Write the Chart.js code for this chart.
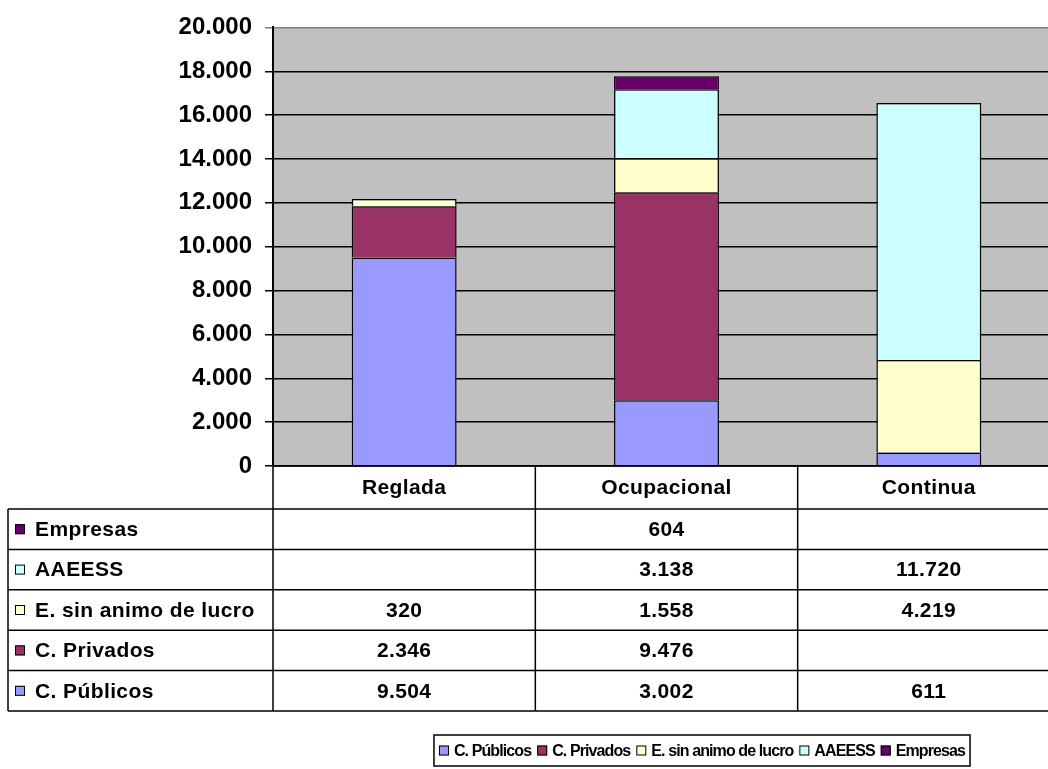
<!DOCTYPE html>
<html><head><meta charset="utf-8">
<script src="https://cdn.jsdelivr.net/npm/chart.js@4.4.0/dist/chart.umd.min.js"></script>
<style>
html,body{margin:0;padding:0;background:#fff;overflow:hidden;width:1048px;height:769px}
#wrap{width:1060px;height:769px;position:relative}
</style></head><body>
<div id="wrap"><canvas id="c" width="1060" height="769"></canvas></div>
<script>
// Categories and series
const categories = ['Reglada', 'Ocupacional', 'Continua'];
const seriesNames = ['C. Públicos', 'C. Privados', 'E. sin animo de lucro', 'AAEESS', 'Empresas'];
const publicos = [9504, 3002, 611];
const privados = [2346, 9476, null];
const sinAnimo = [320, 1558, 4219];
const aaeess = [null, 3138, 11720];
const empresas = [null, 604, null];
const seriesColors = ['#9999ff', '#993366', '#ffffcc', '#ccffff', '#660066'];
const yMax = 20000, yStep = 2000;

const seriesValues = [publicos, privados, sinAnimo, aaeess, empresas];
const FONT = '"Liberation Sans", Arial, sans-serif';

function fmt(v) {
  return String(v).replace(/\B(?=(\d{3})+(?!\d))/g, '.');
}

// grey plot background
const plotBg = {
  id: 'plotBg',
  beforeDraw(chart) {
    const { ctx, chartArea: a } = chart;
    ctx.save();
    ctx.fillStyle = '#c0c0c0';
    ctx.fillRect(a.left, a.top, a.right - a.left, a.bottom - a.top);
    ctx.restore();
  }
};

// data table under the plot plus the boxed legend
const dataTable = {
  id: 'dataTable',
  afterDraw(chart) {
    const { ctx, chartArea: a } = chart;
    const xs = chart.scales.x;
    const n = categories.length;
    const catW = (a.right - a.left) / n;
    const headTop = a.bottom, headH = 43, rowH = 40.4, tLeft = 8;
    const rowsTop = headTop + headH;
    const tBottom = rowsTop + rowH * seriesNames.length;

    ctx.save();
    ctx.strokeStyle = '#000';
    ctx.lineWidth = 1.5;
    ctx.beginPath();
    ctx.moveTo(a.left, headTop); ctx.lineTo(a.right, headTop);
    for (let i = 0; i <= seriesNames.length; i++) {
      const y = rowsTop + rowH * i;
      ctx.moveTo(tLeft, y); ctx.lineTo(a.right, y);
    }
    ctx.moveTo(tLeft, rowsTop); ctx.lineTo(tLeft, tBottom);
    for (let k = 0; k < n; k++) {
      const x = a.left + k * catW;
      ctx.moveTo(x, headTop); ctx.lineTo(x, tBottom);
    }
    ctx.stroke();

    ctx.fillStyle = '#000';
    ctx.font = 'bold 21px ' + FONT;
    ctx.letterSpacing = '0.4px';
    ctx.textBaseline = 'middle';
    ctx.textAlign = 'center';
    categories.forEach((c, i) => ctx.fillText(c, xs.getPixelForValue(i), headTop + headH / 2 + 1));

    const order = seriesNames.map((_, i) => i).reverse();
    order.forEach((si, r) => {
      const yMid = rowsTop + rowH * r + rowH / 2 + 1;
      ctx.fillStyle = seriesColors[si];
      ctx.fillRect(15, yMid - 6, 10, 10);
      ctx.lineWidth = 1;
      ctx.strokeStyle = '#000';
      ctx.strokeRect(15.5, yMid - 5.5, 9, 9);
      ctx.fillStyle = '#000';
      ctx.textAlign = 'left';
      ctx.fillText(seriesNames[si], 35, yMid);
      ctx.textAlign = 'center';
      seriesValues[si].forEach((v, ci) => {
        if (v !== null) ctx.fillText(fmt(v), xs.getPixelForValue(ci), yMid);
      });
    });

    // legend
    ctx.font = 'bold 16px ' + FONT;
    ctx.letterSpacing = '-0.9px';
    const mk = 10, gapMk = 5, gapItem = 6, pad = 5;
    const widths = seriesNames.map(s => ctx.measureText(s).width);
    const total = widths.reduce((s, w) => s + mk + gapMk + w, 0) + gapItem * (seriesNames.length - 1);
    const lx = 702 - total / 2 - pad, ly = 735, lh = 31;
    ctx.lineWidth = 1.5;
    ctx.strokeStyle = '#000';
    ctx.strokeRect(lx, ly, total + pad * 2, lh);
    let x = lx + pad;
    const yMid = ly + lh / 2 + 1;
    seriesNames.forEach((s, i) => {
      ctx.fillStyle = seriesColors[i];
      ctx.fillRect(x, yMid - 6, mk, mk);
      ctx.lineWidth = 1;
      ctx.strokeRect(x + 0.5, yMid - 5.5, mk - 1, mk - 1);
      x += mk + gapMk;
      ctx.fillStyle = '#000';
      ctx.textAlign = 'left';
      ctx.fillText(s, x, yMid);
      x += widths[i] + gapItem;
    });
    ctx.restore();
  }
};

new Chart(document.getElementById('c'), {
  type: 'bar',
  data: {
    labels: categories,
    datasets: seriesNames.map((name, i) => ({
      label: name,
      data: seriesValues[i],
      backgroundColor: seriesColors[i],
      borderColor: '#000',
      borderWidth: 1.5,
      barPercentage: 0.4,
      categoryPercentage: 1
    }))
  },
  options: {
    responsive: false,
    animation: false,
    layout: { padding: { top: 26, bottom: 303, left: 0, right: 0 } },
    plugins: { legend: { display: false }, tooltip: { enabled: false } },
    scales: {
      x: { stacked: true, display: false },
      y: {
        stacked: true,
        min: 0,
        max: yMax,
        ticks: {
          stepSize: yStep,
          callback: v => fmt(v),
          color: '#000',
          padding: 13,
          font: { family: FONT, weight: 'bold', size: 24 }
        },
        grid: {
          color: c => (c.tick && c.tick.value === yMax ? '#808080' : '#000'),
          lineWidth: 1.5,
          tickLength: 8
        },
        border: { color: '#000', width: 2 },
        afterFit: s => { s.width = 273; }
      }
    }
  },
  plugins: [plotBg, dataTable]
});
</script>
</body></html>
